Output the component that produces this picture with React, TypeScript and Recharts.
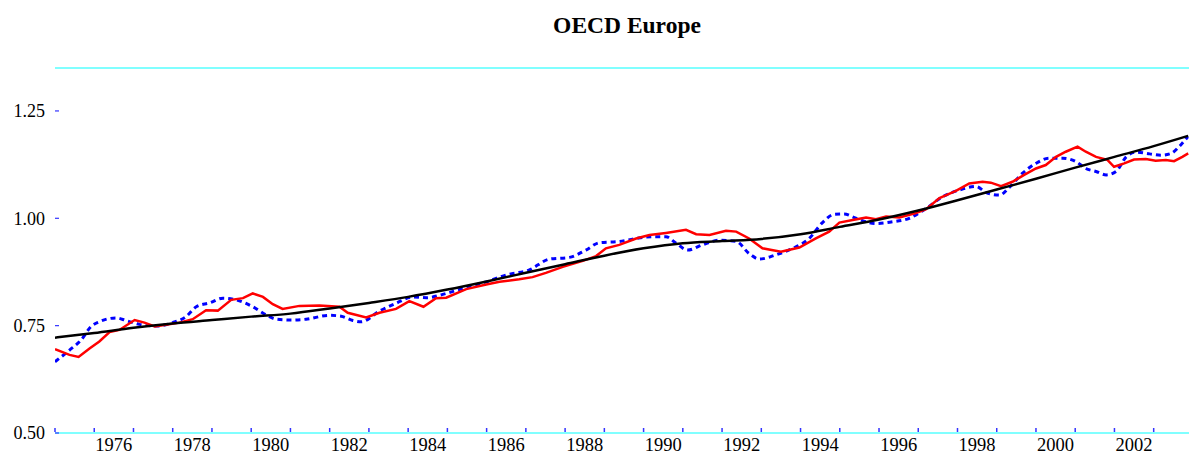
import { LineChart, Line, XAxis, YAxis, ReferenceLine } from 'recharts';

// actual series (red), quarterly-ish readings
const actualT = [
  1975.0, 1975.37, 1975.6, 1975.88, 1976.13, 1976.39, 1976.64, 1977.03, 1977.28, 1977.54,
  1977.83, 1978.17, 1978.51, 1978.85, 1979.15, 1979.49, 1979.79, 1980.04, 1980.3, 1980.55,
  1980.8, 1981.23, 1981.74, 1982.25, 1982.46, 1982.93, 1983.27, 1983.69, 1984.03, 1984.39,
  1984.71, 1984.97, 1985.48, 1985.99, 1986.33, 1986.83, 1987.17, 1987.51, 1987.94, 1988.45,
  1988.79, 1989.04, 1989.38, 1989.81, 1990.15, 1990.57, 1991.08, 1991.34, 1991.68, 1992.1,
  1992.36, 1992.69, 1993.03, 1993.5, 1993.97, 1994.39, 1994.73, 1994.99, 1995.33, 1995.67,
  1995.92, 1996.18, 1996.52, 1996.94, 1997.2, 1997.54, 1997.96, 1998.3, 1998.64, 1998.85,
  1999.11, 1999.4, 1999.7, 2000.0, 2000.25, 2000.51, 2000.76, 2001.06, 2001.27, 2001.53,
  2001.82, 2001.99, 2002.25, 2002.5, 2002.8, 2003.05, 2003.31, 2003.52, 2003.73, 2003.88,
];
const actual = [
  0.695, 0.682, 0.677, 0.697, 0.713, 0.735, 0.740, 0.763, 0.757, 0.748,
  0.752, 0.757, 0.765, 0.786, 0.785, 0.810, 0.814, 0.825, 0.817, 0.800,
  0.789, 0.796, 0.797, 0.794, 0.780, 0.769, 0.780, 0.789, 0.807, 0.794,
  0.814, 0.815, 0.835, 0.846, 0.852, 0.858, 0.863, 0.873, 0.887, 0.901,
  0.912, 0.930, 0.938, 0.953, 0.961, 0.966, 0.973, 0.963, 0.961, 0.971,
  0.969, 0.953, 0.930, 0.922, 0.932, 0.953, 0.969, 0.990, 0.996, 1.002,
  0.998, 1.004, 1.002, 1.012, 1.021, 1.047, 1.064, 1.081, 1.085, 1.083,
  1.075, 1.085, 1.101, 1.116, 1.124, 1.143, 1.155, 1.167, 1.155, 1.143,
  1.136, 1.120, 1.128, 1.137, 1.138, 1.134, 1.136, 1.133, 1.143, 1.151,
];

// fitted series (blue dotted)
const fittedT = [
  1975.0, 1975.37, 1975.67, 1975.92, 1976.13, 1976.56, 1976.81, 1977.15, 1977.58, 1978.0,
  1978.34, 1978.6, 1978.94, 1979.28, 1979.62, 1980.04, 1980.38, 1980.64, 1981.0, 1981.4,
  1981.99, 1982.29, 1982.59, 1982.8, 1983.27, 1983.69, 1984.12, 1984.46, 1984.97, 1985.48,
  1985.99, 1986.5, 1987.09, 1987.6, 1988.11, 1988.53, 1988.87, 1989.38, 1989.81, 1990.23,
  1990.57, 1990.83, 1991.12, 1991.5, 1991.93, 1992.36, 1992.69, 1992.95, 1993.37, 1993.8,
  1994.22, 1994.56, 1994.85, 1995.11, 1995.41, 1995.92, 1996.35, 1996.77, 1997.2, 1997.62,
  1998.05, 1998.47, 1998.73, 1999.07, 1999.32, 1999.66, 2000.0, 2000.34, 2000.68, 2001.02,
  2001.27, 2001.53, 2001.79, 2002.04, 2002.3, 2002.55, 2002.9, 2003.18, 2003.44, 2003.65,
  2003.87,
];
const fitted = [
  0.666, 0.693, 0.717, 0.748, 0.759, 0.768, 0.762, 0.753, 0.749, 0.757,
  0.771, 0.794, 0.803, 0.814, 0.810, 0.794, 0.775, 0.765, 0.763, 0.765,
  0.774, 0.772, 0.762, 0.759, 0.784, 0.802, 0.817, 0.815, 0.825, 0.839,
  0.852, 0.868, 0.880, 0.905, 0.909, 0.926, 0.943, 0.946, 0.953, 0.957,
  0.957, 0.942, 0.926, 0.938, 0.949, 0.946, 0.918, 0.905, 0.915, 0.930,
  0.953, 0.990, 1.009, 1.010, 1.000, 0.988, 0.992, 1.000, 1.023, 1.050,
  1.066, 1.074, 1.060, 1.054, 1.072, 1.105, 1.128, 1.140, 1.140, 1.132,
  1.116, 1.109, 1.101, 1.109, 1.143, 1.154, 1.150, 1.147, 1.151, 1.167,
  1.190,
];

// trend (black)
const trendT = [
  1975, 1976, 1977, 1978, 1979, 1980, 1981, 1982, 1983, 1984,
  1985, 1986, 1987, 1988, 1989, 1990, 1991, 1992, 1993, 1994,
  1995, 1996, 1997, 1998, 1999, 2000, 2001, 2002, 2003, 2003.88,
];
const trend = [
  0.722, 0.733, 0.745, 0.755, 0.763, 0.771, 0.778, 0.790, 0.803, 0.817,
  0.834, 0.853, 0.873, 0.893, 0.913, 0.930, 0.942, 0.947, 0.952, 0.963,
  0.980, 0.997, 1.018, 1.042, 1.067, 1.092, 1.118, 1.143, 1.168, 1.192,
];

const yearTicks = [
  1975, 1976, 1977, 1978, 1979, 1980, 1981, 1982, 1983, 1984, 1985, 1986, 1987, 1988, 1989,
  1990, 1991, 1992, 1993, 1994, 1995, 1996, 1997, 1998, 1999, 2000, 2001, 2002, 2003,
];
const yTicks = [0.5, 0.75, 1.0, 1.25];

const X_MIN = 1975;
const X_MAX = 2003.9;
const WIDTH = 1189;
const HEIGHT = 455;
const LEFT = 55;
const TOP = 68;
const BOTTOM = 22;
const PX_PER_YEAR = (WIDTH - LEFT) / (X_MAX - X_MIN);

const FONT = '"Liberation Serif", "DejaVu Serif", serif';
const CYAN = '#80ffff';
const TICK_BLUE = '#3333ff';

const toRows = (ts: number[], vs: number[]) => ts.map((t, i) => ({ t, v: vs[i] }));

const XTick = ({ x, y, payload }: any) => {
  const year = payload.value;
  return (
    <g>
      <line x1={x} y1={y - 1} x2={x} y2={y - 5} stroke={TICK_BLUE} strokeWidth={1.5} />
      {year % 2 === 0 && (
        <text x={x + PX_PER_YEAR / 2} y={y + 18} textAnchor="middle" fontSize={18.5} fontFamily={FONT} fill="#000">
          {year}
        </text>
      )}
    </g>
  );
};

const YTick = ({ x, y, payload }: any) => (
  <g>
    <line x1={x} y1={y} x2={x + 4} y2={y} stroke={TICK_BLUE} strokeWidth={1.2} />
    <text x={x - 10} y={y} dy="0.35em" textAnchor="end" fontSize={18} fontFamily={FONT} fill="#000">
      {payload.value.toFixed(2)}
    </text>
  </g>
);

export default function App() {
  return (
    <div style={{ position: 'absolute', left: 0, top: 0, width: WIDTH, height: HEIGHT, background: '#fff', overflow: 'hidden' }}>
      <div
        style={{
          position: 'absolute',
          left: 0,
          top: 12,
          width: 1254,
          textAlign: 'center',
          fontFamily: FONT,
          fontWeight: 'bold',
          fontSize: 23.5,
        }}
      >
        OECD Europe
      </div>
      <LineChart width={WIDTH} height={HEIGHT} margin={{ top: TOP, right: 0, bottom: 0, left: 0 }}>
        <XAxis
          type="number"
          dataKey="t"
          domain={[X_MIN, X_MAX]}
          ticks={yearTicks}
          interval={0}
          allowDataOverflow
          axisLine={false}
          tickLine={false}
          tickSize={0}
          tickMargin={0}
          height={BOTTOM}
          tick={<XTick />}
        />
        <YAxis
          type="number"
          domain={[0.5, 1.35]}
          ticks={yTicks}
          allowDataOverflow
          axisLine={false}
          tickLine={false}
          tickSize={0}
          tickMargin={0}
          width={LEFT}
          tick={<YTick />}
        />
        <ReferenceLine y={1.35} stroke={CYAN} strokeWidth={2} />
        <ReferenceLine y={0.5} stroke={CYAN} strokeWidth={2} />
        <Line
          data={toRows(fittedT, fitted)}
          dataKey="v"
          type="monotone"
          stroke="#0000ff"
          strokeWidth={3}
          strokeDasharray="5 4"
          dot={false}
          isAnimationActive={false}
        />
        <Line
          data={toRows(actualT, actual)}
          dataKey="v"
          type="linear"
          stroke="#ff0000"
          strokeWidth={2.5}
          dot={false}
          isAnimationActive={false}
        />
        <Line
          data={toRows(trendT, trend)}
          dataKey="v"
          type="monotone"
          stroke="#000000"
          strokeWidth={2.5}
          dot={false}
          isAnimationActive={false}
        />
      </LineChart>
    </div>
  );
}
